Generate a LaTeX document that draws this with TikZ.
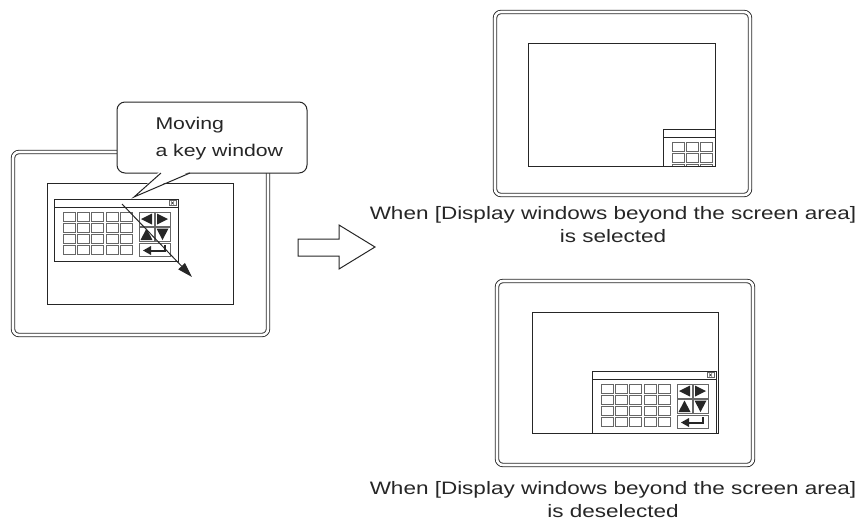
\documentclass[tikz,border=0pt]{standalone}
\usepackage{fontspec}
\setmainfont{Liberation Sans}[FakeStretch=1.25]
\usetikzlibrary{arrows.meta}
\usetikzlibrary{positioning}
\definecolor{fg}{rgb}{0.15,0.15,0.15}
\tikzstyle{bezel}=[draw=fg, double, double distance=2.6pt, line width=0.9pt,
rounded corners=6pt, inner sep=0pt, outer sep=0pt]
\tikzstyle{screen}=[draw=fg, line width=1pt, inner sep=0pt, outer sep=0pt]
\tikzstyle{keyframe}=[draw=fg, line width=0.9pt]
\tikzstyle{keybox}=[draw=black!60, line width=0.8pt]
\tikzstyle{bubble}=[draw=fg, fill=white, line width=1pt, rounded corners=8pt,
inner sep=0pt, outer sep=0pt]
\tikzstyle{caption}=[font=\fontsize{18}{23}\selectfont, align=center, text=fg]
\tikzstyle{dragarrow}=[-{Triangle[length=15pt, width=9pt]}, draw=fg, line width=1pt]

% key window, #1 = top left corner
\newcommand{\keywindow}[1]{%
  \begin{scope}[shift={#1}]
    \draw[keyframe, fill=white] (0,0) rectangle (124,62);
    \draw[keyframe] (0,8) -- (124,8);
    \draw[keybox, line width=0.6pt] (115,1.5) rectangle (122,6.5);
    \draw[fg, line width=0.6pt] (117,2.5) -- (120,5.5) (117,5.5) -- (120,2.5);
    \foreach \c in {0,...,4}
      \foreach \r in {0,...,3}
        \draw[keybox] ({9+\c*14.4},{13+\r*11.2}) rectangle ++(12,9);
    \draw[keybox] (85,13) rectangle (100,27);
    \draw[keybox] (101,13) rectangle (116,27);
    \draw[keybox] (85,28) rectangle (100,42);
    \draw[keybox] (101,28) rectangle (116,42);
    \draw[keybox] (85,44) rectangle (116,57);
    \fill[fg] (87,20) -- (98,14.5) -- (98,25.5) -- cycle;
    \fill[fg] (114,20) -- (103,14.5) -- (103,25.5) -- cycle;
    \fill[fg] (92.5,29.5) -- (86.5,41) -- (98.5,41) -- cycle;
    \fill[fg] (108.5,41) -- (102.5,29.5) -- (114.5,29.5) -- cycle;
    \fill[fg] (89,51.5) -- (97,47) -- (97,56) -- cycle;
    \draw[fg, line width=2pt] (96,51.5) -- (110.5,51.5) -- (110.5,46);
  \end{scope}}

\begin{document}
\begin{tikzpicture}[x=1pt, y=-1pt]
    \useasboundingbox (0,0) rectangle (859,523);

    % panel on the left
    \node[bezel, minimum width=255pt, minimum height=183pt] (devL) at (140.5,243.5) {};
    \node[screen, minimum width=186pt, minimum height=121pt] (scrL) at (140,243.5) {};
    \keywindow{(54,199)}
    \coordinate (dragstart) at (122,204);
    \coordinate (dragend) at (192,277);
    \draw[dragarrow] (dragstart) -- (dragend);

    \node[bubble, minimum width=190pt, minimum height=71pt] (bubble) at (212,137.5) {};
    \fill[white] (160,171) -- (134,197) -- (191,171) -- cycle;
    \draw[fg, line width=1pt] (161,173) -- (134,197) -- (190,173);
    \node[font=\fontsize{17}{27}\selectfont, align=left, anchor=base west, text=fg]
        (msg) at (152,156) {Moving\\a key window};

    % big arrow
    \draw[fg, line width=1pt] (298,239) -- (339,239) -- (339,225) -- (375,247)
        -- (339,269) -- (339,256) -- (298,256) -- cycle;

    % panel top right
    \node[bezel, minimum width=255pt, minimum height=183pt] (devA) at (622.5,103.5) {};
    \node[screen, minimum width=187pt, minimum height=123pt] (scrA) at (621.5,104.5) {};
    \begin{scope}
        \clip (scrA.north west) rectangle (scrA.south east);
        \keywindow{(663,129)}
    \end{scope}
    \draw[screen] (scrA.north west) rectangle (scrA.south east);
    \node[caption, anchor=base] (capA) at (613,242)
        {When [Display windows beyond the screen area]\\is selected};

    % panel bottom right
    \node[bezel, minimum width=256pt, minimum height=184pt] (devB) at (625,373) {};
    \node[screen, minimum width=186pt, minimum height=121pt] (scrB) at (625,372.5) {};
    \keywindow{(592,371)}
    \node[caption, anchor=base] (capB) at (613,517)
        {When [Display windows beyond the screen area]\\is deselected};
\end{tikzpicture}
\end{document}
